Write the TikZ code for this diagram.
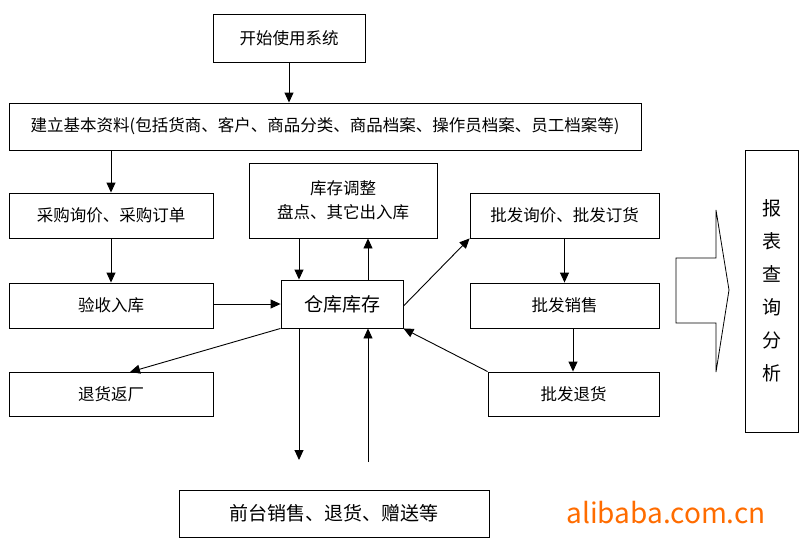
\documentclass[tikz,border=0pt]{standalone}
\usepackage{fontspec}
\setmainfont{Noto Sans CJK SC}
\usetikzlibrary{arrows.meta}
\begin{document}
\begin{tikzpicture}[x=1pt,y=-1pt,
  box/.style={draw,line width=0.9pt,inner sep=0pt,font=\fontsize{16.5}{20}\selectfont},
  arr/.style={line width=0.9pt,-{Triangle[length=10pt,width=9pt]}}]
\useasboundingbox (0,0) rectangle (800,552);
\newcommand{\bx}[6]{\node[box,minimum width=#4-#2,minimum height=#5-#3,align=center] (#1) at ({(#2+#4)/2},{(#3+#5)/2}) {#6};}
\bx{start}{213}{14}{365}{62}{开始使用系统}
\bx{base}{9}{103}{641}{150}{建立基本资料(包括货商、客户、商品分类、商品档案、操作员档案、员工档案等)}
\bx{cg}{9}{193}{213}{238}{采购询价、采购订单}
\bx{kc}{249}{163}{437}{238}{库存调整\\[4pt]盘点、其它出入库}
\bx{pf}{470}{193}{659}{238}{批发询价、批发订货}
\bx{ys}{9}{283}{213}{328}{验收入库}
\bx{ck}{281}{280}{403}{328}{\fontsize{19}{21}\selectfont 仓库库存}
\bx{pfxs}{470}{283}{659}{328}{批发销售}
\bx{th}{9}{372}{213}{416}{退货返厂}
\bx{pfth}{488}{372}{659}{416}{批发退货}
\bx{qt}{179}{490}{489}{537}{\fontsize{19}{21}\selectfont 前台销售、退货、赠送等}
\node[draw,line width=0.9pt,minimum width=53pt,minimum height=282pt,inner sep=0pt,align=center,font=\fontsize{19}{33}\selectfont] (bb) at (771.5,291) {报\\表\\查\\询\\分\\析};
\draw[line width=0.8pt] (676,258) -- (716,258) -- (716,210) -- (729,290) -- (716,372) -- (716,323) -- (676,323) -- cycle;
\draw[arr] (start.south) -- (base.north -| start.south);
\draw[arr] (base.south -| cg.north) -- (cg.north);
\draw[arr] (cg.south) -- (ys.north);
\draw[arr] (ys.east |- ck.west) -- (ck.west);
\draw[arr] (kc.south -| 299,0) -- (ck.north -| 299,0);
\draw[arr] (ck.north -| 368,0) -- (kc.south -| 368,0);
\draw[arr] (ck.east) ++(0,2) -- (pf.south west);
\draw[arr] (pf.south) -- (pfxs.north);
\draw[arr] (pfxs.south -| 573,0) -- (pfth.north -| 573,0);
\draw[arr] (pfth.north west) -- (ck.south east);
\draw[arr] (ck.south west) -- (130,372);
\coordinate (d1) at (299,460);
\coordinate (u1) at (368,462);
\draw[arr] (ck.south -| d1) -- (d1);
\draw[arr] (u1) -- (ck.south -| u1);
\node[font=\fontsize{28}{30}\selectfont,text=orange!85!red] (wm) at (666,513) {alibaba.com.cn};
\end{tikzpicture}
\end{document}
